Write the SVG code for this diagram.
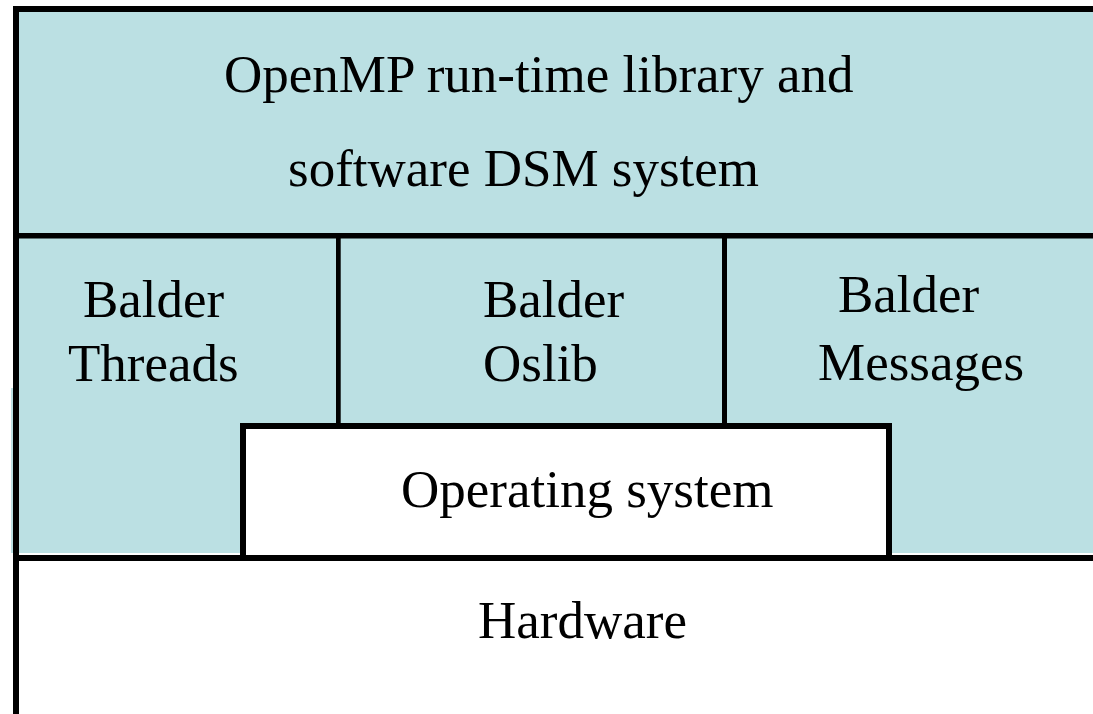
<svg xmlns="http://www.w3.org/2000/svg" width="1093" height="714" viewBox="0 0 1093 714">
<style>
.fill{fill:#BBE0E3}
.ln{fill:#000}
text{font-family:"Liberation Serif","Times New Roman",serif;font-size:53px;fill:#000}
</style>
<rect x="0" y="0" width="1093" height="714" fill="#fff"/>
<g id="openmp">
<rect class="fill" x="19" y="12" width="1074" height="541"/>
<rect class="fill" x="11" y="388" width="4" height="165"/>
<text x="224" y="92">OpenMP run-time library and</text>
<text x="288" y="186">software DSM system</text>
</g>
<g id="threads">
<text x="83" y="317">Balder</text>
<text x="68" y="381">Threads</text>
</g>
<g id="oslib">
<text x="483" y="317">Balder</text>
<text x="483" y="381">Oslib</text>
</g>
<g id="messages">
<text x="838" y="312">Balder</text>
<text x="818" y="380">Messages</text>
</g>
<g id="os">
<rect x="243" y="426" width="646" height="132" fill="#fff" stroke="#000" stroke-width="6"/>
<text x="401" y="507">Operating system</text>
</g>
<g id="hardware">
<text x="478" y="638">Hardware</text>
</g>
<g id="lines">
<rect class="ln" x="13" y="6" width="1080" height="6"/>
<rect class="ln" x="13" y="6" width="6" height="708"/>
<rect class="ln" x="19" y="233" width="1074" height="5.5"/>
<rect class="ln" x="13" y="555" width="1080" height="6"/>
<rect class="ln" x="336" y="238" width="4.7" height="186"/>
<rect class="ln" x="722" y="238" width="5" height="186"/>
</g>
</svg>
